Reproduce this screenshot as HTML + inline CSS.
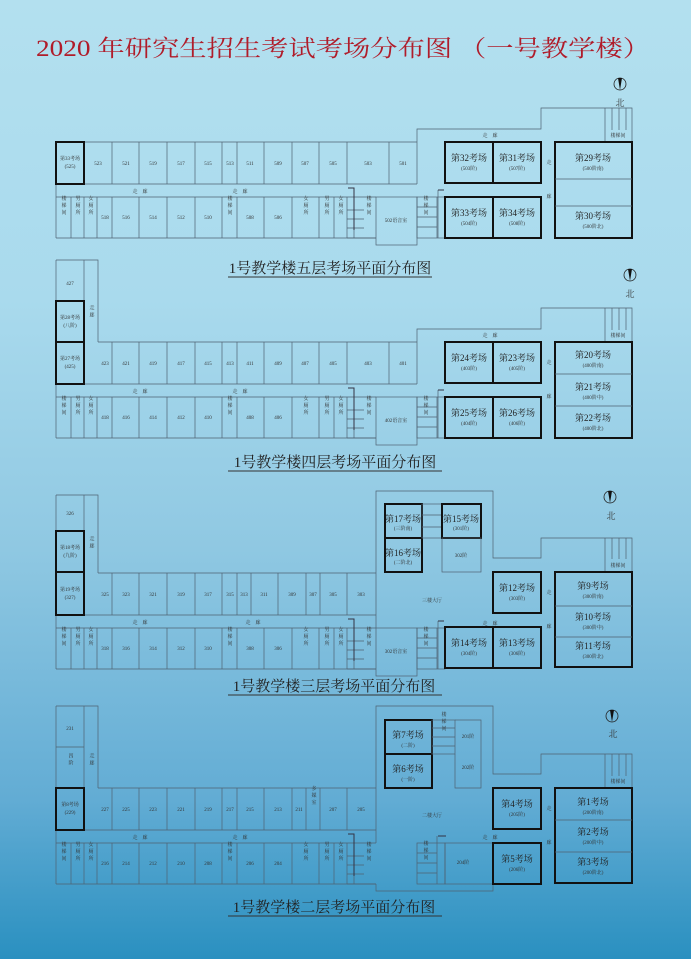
<!DOCTYPE html>
<html><head><meta charset="utf-8"><style>
html,body{margin:0;padding:0}
body{width:691px;height:959px;overflow:hidden;background:linear-gradient(#b3e0ef 0px,#a9daed 300px,#8fc8e2 550px,#62acd4 800px,#2a90c0 959px);font-family:"Liberation Serif","Noto Serif CJK SC",serif}
svg{position:absolute;left:0;top:0}
.l{fill:none;stroke:#4f6272;stroke-width:0.7}
.t{fill:none;stroke:#111;stroke-width:2}
.w{fill:none;stroke:#334;stroke-width:1}
text{font-family:"Liberation Serif","Noto Serif CJK SC",serif;fill:#333;text-anchor:middle}
.s{font-size:5px}
.m{font-size:9px;fill:#222}
.x{font-size:5px;fill:#333}
.v{font-size:5px;writing-mode:vertical-rl;fill:#333;letter-spacing:2px}
.c{font-size:15px;fill:#222}
</style></head><body>
<svg width="691" height="959" viewBox="0 0 691 959">
<text x="36" y="56" textLength="614" lengthAdjust="spacingAndGlyphs" style="font-size:23px;fill:#b01c2a;text-anchor:start;font-family:'Liberation Serif','Noto Serif CJK SC',serif">2020 年研究生招生考试考场分布图 （一号教学楼）</text>

<!-- ========== FLOOR 5 (offset 0) ========== -->
<g>
<path class="l" d="M56 142H417M56 184H417M56 197H376M56 238H376M56 142V238"/>
<path class="l" d="M84 142V184M112 142V184M139 142V184M167 142V184M195 142V184M222 142V184M237 142V184M264 142V184M292 142V184M319 142V184M347 142V184M389 142V184M417 142V184"/>
<path class="l" d="M71 197V238M84 197V238M97 197V238M112 197V238M139 197V238M167 197V238M195 197V238M222 197V238M237 197V238M264 197V238M292 197V238M319 197V238M334 197V238M347 197V238"/>
<rect class="t" x="56" y="142" width="28" height="42"/>
<text class="x" x="70" y="160">第33考场</text><text class="x" x="70" y="168">(525)</text>
<text class="s" x="98" y="165">523</text><text class="s" x="126" y="165">521</text><text class="s" x="153" y="165">519</text><text class="s" x="181" y="165">517</text><text class="s" x="208" y="165">515</text><text class="s" x="230" y="165">513</text><text class="s" x="250" y="165">511</text><text class="s" x="278" y="165">509</text><text class="s" x="305" y="165">507</text><text class="s" x="333" y="165">505</text><text class="s" x="368" y="165">503</text><text class="s" x="403" y="165">501</text>
<text class="s" x="140" y="193">走　廊</text><text class="s" x="240" y="193">走　廊</text>
<text class="v" x="63" y="206">楼梯间</text><text class="v" x="77" y="206">男厕所</text><text class="v" x="90" y="206">女厕所</text>
<text class="s" x="105" y="219">518</text><text class="s" x="126" y="219">516</text><text class="s" x="153" y="219">514</text><text class="s" x="181" y="219">512</text><text class="s" x="208" y="219">510</text><text class="v" x="229" y="206">楼梯间</text><text class="s" x="250" y="219">508</text><text class="s" x="278" y="219">506</text><text class="v" x="305" y="206">女厕所</text><text class="v" x="326" y="206">男厕所</text><text class="v" x="340" y="206">女厕所</text>
<path class="l" d="M347 238H376M354 200V238M347 210H364M347 219H364M347 228H364"/>
<path class="w" d="M348 188H354V230"/>
<text class="v" x="368" y="206">楼梯间</text>
<rect class="l" x="376" y="197" width="41" height="48"/><text class="s" x="396" y="222">502语音室</text>
<rect class="l" x="417" y="197" width="28" height="41"/><path class="l" d="M437 197V238M417 207H437M417 217H437M417 227H437M438 190V238"/>
<path class="w" d="M438 190H444"/>
<text class="v" x="425" y="206">楼梯间</text>
<path class="l" d="M417 142V129H541V108H632V142M605 108V142M612 108V130M619 108V130M626 108V130"/>
<text class="x" x="618" y="137">楼梯间</text>
<text class="s" x="490" y="137">走　廊</text>
<rect class="t" x="445" y="142" width="48" height="41"/><rect class="t" x="493" y="142" width="48" height="41"/>
<rect class="t" x="445" y="197" width="48" height="41"/><rect class="t" x="493" y="197" width="48" height="41"/>
<rect class="t" x="555" y="142" width="77" height="96"/><path class="l" d="M555 179H632M555 206H632"/>
<text class="m" x="469" y="161">第32考场</text><text class="s" x="469" y="170">(503阶)</text>
<text class="m" x="517" y="161">第31考场</text><text class="s" x="517" y="170">(507阶)</text>
<text class="m" x="469" y="216">第33考场</text><text class="s" x="469" y="225">(504阶)</text>
<text class="m" x="517" y="216">第34考场</text><text class="s" x="517" y="225">(508阶)</text>
<text class="m" x="593" y="161">第29考场</text><text class="s" x="593" y="170">(500阶南)</text>
<text class="m" x="593" y="219">第30考场</text><text class="s" x="593" y="228">(500阶北)</text>
<text class="v" x="548" y="163">走</text><text class="v" x="548" y="197">廊</text>
<circle cx="620" cy="84" r="6" fill="none" stroke="#222" stroke-width="0.8"/><path d="M618 78L620 90L622 78Z" fill="#111"/><text x="620" y="106" style="font-size:9px">北</text>
<text class="c" x="330" y="273">1号教学楼五层考场平面分布图</text><path d="M228 277H432" stroke="#333" stroke-width="1"/>
</g>

<!-- ========== FLOOR 4 (offset 200) ========== -->
<g transform="translate(0,200)">
<path class="l" d="M56 60H98V142M56 60V238M84 60V184M98 142H417M98 184H417M56 197H376M56 238H376M56 101H84"/>
<path class="l" d="M112 142V184M139 142V184M167 142V184M195 142V184M222 142V184M237 142V184M264 142V184M292 142V184M319 142V184M347 142V184M389 142V184M417 142V184M84 184H98"/>
<path class="l" d="M71 197V238M84 197V238M97 197V238M112 197V238M139 197V238M167 197V238M195 197V238M222 197V238M237 197V238M264 197V238M292 197V238M319 197V238M334 197V238M347 197V238"/>
<rect class="t" x="56" y="101" width="28" height="41"/><rect class="t" x="56" y="142" width="28" height="42"/>
<text class="s" x="70" y="85">427</text>
<text class="x" x="70" y="119">第28考场</text><text class="x" x="70" y="127">(八阶)</text>
<text class="x" x="70" y="160">第27考场</text><text class="x" x="70" y="168">(425)</text>
<text class="v" x="91" y="112">走廊</text>
<text class="s" x="105" y="165">423</text><text class="s" x="126" y="165">421</text><text class="s" x="153" y="165">419</text><text class="s" x="181" y="165">417</text><text class="s" x="208" y="165">415</text><text class="s" x="230" y="165">413</text><text class="s" x="250" y="165">411</text><text class="s" x="278" y="165">409</text><text class="s" x="305" y="165">407</text><text class="s" x="333" y="165">405</text><text class="s" x="368" y="165">403</text><text class="s" x="403" y="165">401</text>
<text class="s" x="140" y="193">走　廊</text><text class="s" x="240" y="193">走　廊</text>
<text class="v" x="63" y="206">楼梯间</text><text class="v" x="77" y="206">男厕所</text><text class="v" x="90" y="206">女厕所</text>
<text class="s" x="105" y="219">418</text><text class="s" x="126" y="219">416</text><text class="s" x="153" y="219">414</text><text class="s" x="181" y="219">412</text><text class="s" x="208" y="219">410</text><text class="v" x="229" y="206">楼梯间</text><text class="s" x="250" y="219">408</text><text class="s" x="278" y="219">406</text><text class="v" x="305" y="206">女厕所</text><text class="v" x="326" y="206">男厕所</text><text class="v" x="340" y="206">女厕所</text>
<path class="l" d="M347 238H376M354 200V238M347 210H364M347 219H364M347 228H364"/>
<path class="w" d="M348 188H354V230"/>
<text class="v" x="368" y="206">楼梯间</text>
<rect class="l" x="376" y="197" width="41" height="48"/><text class="s" x="396" y="222">402语音室</text>
<rect class="l" x="417" y="197" width="28" height="41"/><path class="l" d="M437 197V238M417 207H437M417 217H437M417 227H437M438 190V238"/>
<path class="w" d="M438 190H444"/>
<text class="v" x="425" y="206">楼梯间</text>
<path class="l" d="M417 142V129H541V108H632V142M605 108V142M612 108V130M619 108V130M626 108V130"/>
<text class="x" x="618" y="137">楼梯间</text>
<text class="s" x="490" y="137">走　廊</text>
<rect class="t" x="445" y="142" width="48" height="41"/><rect class="t" x="493" y="142" width="48" height="41"/>
<rect class="t" x="445" y="197" width="48" height="41"/><rect class="t" x="493" y="197" width="48" height="41"/>
<rect class="t" x="555" y="142" width="77" height="96"/><path class="l" d="M555 174H632M555 206H632"/>
<text class="m" x="469" y="161">第24考场</text><text class="s" x="469" y="170">(403阶)</text>
<text class="m" x="517" y="161">第23考场</text><text class="s" x="517" y="170">(405阶)</text>
<text class="m" x="469" y="216">第25考场</text><text class="s" x="469" y="225">(404阶)</text>
<text class="m" x="517" y="216">第26考场</text><text class="s" x="517" y="225">(406阶)</text>
<text class="m" x="593" y="158">第20考场</text><text class="s" x="593" y="167">(400阶南)</text>
<text class="m" x="593" y="190">第21考场</text><text class="s" x="593" y="199">(400阶中)</text>
<text class="m" x="593" y="221">第22考场</text><text class="s" x="593" y="230">(400阶北)</text>
<text class="v" x="548" y="163">走</text><text class="v" x="548" y="197">廊</text>
<circle cx="630" cy="75" r="6" fill="none" stroke="#222" stroke-width="0.8"/><path d="M628 69L630 81L632 69Z" fill="#111"/><text x="630" y="97" style="font-size:9px">北</text>
<text class="c" x="335" y="267">1号教学楼四层考场平面分布图</text><path d="M228 271H442" stroke="#333" stroke-width="1"/>
</g>

<!-- ========== FLOOR 3 (offset 431) ========== -->
<g transform="translate(0,431)">
<path class="l" d="M56 64H98V142M56 64V238M84 64V184M98 142H376M98 184H376M56 197H376M56 238H376M56 100H84M84 184H98"/>
<path class="l" d="M112 142V184M139 142V184M167 142V184M195 142V184M222 142V184M237 142V184M251 142V184M278 142V184M306 142V184M320 142V184M347 142V184"/>
<path class="l" d="M71 197V238M84 197V238M97 197V238M112 197V238M139 197V238M167 197V238M195 197V238M222 197V238M237 197V238M264 197V238M292 197V238M319 197V238M334 197V238M347 197V238"/>
<rect class="t" x="56" y="100" width="28" height="41"/><rect class="t" x="56" y="141" width="28" height="43"/>
<text class="s" x="70" y="84">326</text>
<text class="x" x="70" y="118">第18考场</text><text class="x" x="70" y="126">(九阶)</text>
<text class="x" x="70" y="160">第19考场</text><text class="x" x="70" y="168">(327)</text>
<text class="v" x="91" y="112">走廊</text>
<text class="s" x="105" y="165">325</text><text class="s" x="126" y="165">323</text><text class="s" x="153" y="165">321</text><text class="s" x="181" y="165">319</text><text class="s" x="208" y="165">317</text><text class="s" x="230" y="165">315</text><text class="s" x="244" y="165">313</text><text class="s" x="264" y="165">311</text><text class="s" x="292" y="165">309</text><text class="s" x="313" y="165">307</text><text class="s" x="333" y="165">305</text><text class="s" x="361" y="165">303</text>
<text class="s" x="140" y="193">走　廊</text><text class="s" x="253" y="193">走　廊</text>
<text class="v" x="63" y="206">楼梯间</text><text class="v" x="77" y="206">男厕所</text><text class="v" x="90" y="206">女厕所</text>
<text class="s" x="105" y="219">318</text><text class="s" x="126" y="219">316</text><text class="s" x="153" y="219">314</text><text class="s" x="181" y="219">312</text><text class="s" x="208" y="219">310</text><text class="v" x="229" y="206">楼梯间</text><text class="s" x="250" y="219">308</text><text class="s" x="278" y="219">306</text><text class="v" x="305" y="206">女厕所</text><text class="v" x="326" y="206">男厕所</text><text class="v" x="340" y="206">女厕所</text>
<path class="l" d="M347 238H376M354 200V238M347 210H364M347 219H364M347 228H364"/>
<path class="w" d="M348 188H354V230"/>
<text class="v" x="368" y="206">楼梯间</text>
<rect class="l" x="376" y="197" width="41" height="48"/><text class="s" x="396" y="222">302语音室</text>
<rect class="l" x="417" y="197" width="28" height="41"/><path class="l" d="M437 197V238M417 207H437M417 217H437M417 227H437M438 190V238"/>
<path class="w" d="M438 190H444"/>
<text class="v" x="425" y="206">楼梯间</text>
<path class="l" d="M376 197V60H493V127H541V107H632V141M605 107V141M612 107V128M619 107V128M626 107V128"/>
<text class="x" x="618" y="136">楼梯间</text>
<rect class="t" x="385" y="73" width="37" height="34"/><rect class="t" x="385" y="107" width="37" height="34"/>
<rect class="l" x="422" y="73" width="20" height="34"/><path class="l" d="M422 84H442M422 96H442"/>
<rect class="t" x="442" y="73" width="39" height="34"/><rect class="l" x="442" y="107" width="39" height="34"/>
<text class="m" x="403" y="91">第17考场</text><text class="s" x="403" y="99">(三阶南)</text>
<text class="m" x="403" y="125">第16考场</text><text class="s" x="403" y="133">(二阶北)</text>
<text class="m" x="461" y="91">第15考场</text><text class="s" x="461" y="99">(301阶)</text>
<text class="s" x="461" y="126">302阶</text>
<text class="s" x="432" y="171">三楼大厅</text>
<text class="s" x="490" y="194">走　廊</text>
<rect class="t" x="493" y="141" width="48" height="41"/>
<rect class="t" x="445" y="196" width="48" height="41"/><rect class="t" x="493" y="196" width="48" height="41"/>
<rect class="t" x="555" y="141" width="77" height="95"/><path class="l" d="M555 175H632M555 206H632"/>
<text class="m" x="517" y="160">第12考场</text><text class="s" x="517" y="169">(303阶)</text>
<text class="m" x="469" y="215">第14考场</text><text class="s" x="469" y="224">(304阶)</text>
<text class="m" x="517" y="215">第13考场</text><text class="s" x="517" y="224">(306阶)</text>
<text class="m" x="593" y="158">第9考场</text><text class="s" x="593" y="167">(300阶南)</text>
<text class="m" x="593" y="189">第10考场</text><text class="s" x="593" y="198">(300阶中)</text>
<text class="m" x="593" y="218">第11考场</text><text class="s" x="593" y="227">(300阶北)</text>
<text class="v" x="548" y="162">走</text><text class="v" x="548" y="196">廊</text>
<circle cx="610" cy="66" r="6" fill="none" stroke="#222" stroke-width="0.8"/><path d="M608 60L610 72L612 60Z" fill="#111"/><text x="611" y="88" style="font-size:9px">北</text>
<text class="c" x="334" y="260">1号教学楼三层考场平面分布图</text><path d="M228 264H442" stroke="#333" stroke-width="1"/>
</g>

<!-- ========== FLOOR 2 (offset 646) ========== -->
<g transform="translate(0,646)">
<path class="l" d="M56 60H98V142M56 60V238M84 60V184M98 142H376M98 184H376M56 197H376M56 238H376M56 101H84M84 184H98"/>
<path class="l" d="M112 142V184M139 142V184M167 142V184M195 142V184M222 142V184M237 142V184M264 142V184M292 142V184M306 142V184M320 142V184M347 142V184"/>
<path class="l" d="M71 197V238M84 197V238M97 197V238M112 197V238M139 197V238M167 197V238M195 197V238M222 197V238M237 197V238M264 197V238M292 197V238M319 197V238M334 197V238M347 197V238"/>
<rect class="t" x="56" y="142" width="28" height="42"/>
<text class="s" x="70" y="84">231</text>
<text class="v" x="70" y="114">四阶</text>
<text class="x" x="70" y="160">第8考场</text><text class="x" x="70" y="168">(229)</text>
<text class="v" x="91" y="114">走廊</text>
<text class="s" x="105" y="165">227</text><text class="s" x="126" y="165">225</text><text class="s" x="153" y="165">223</text><text class="s" x="181" y="165">221</text><text class="s" x="208" y="165">219</text><text class="s" x="230" y="165">217</text><text class="s" x="250" y="165">215</text><text class="s" x="278" y="165">213</text><text class="s" x="299" y="165">211</text><text class="v" x="313" y="150">多媒室</text><text class="s" x="333" y="165">207</text><text class="s" x="361" y="165">205</text>
<text class="s" x="140" y="193">走　廊</text><text class="s" x="240" y="193">走　廊</text>
<text class="v" x="63" y="206">楼梯间</text><text class="v" x="77" y="206">男厕所</text><text class="v" x="90" y="206">女厕所</text>
<text class="s" x="105" y="219">216</text><text class="s" x="126" y="219">214</text><text class="s" x="153" y="219">212</text><text class="s" x="181" y="219">210</text><text class="s" x="208" y="219">208</text><text class="v" x="229" y="206">楼梯间</text><text class="s" x="250" y="219">206</text><text class="s" x="278" y="219">204</text><text class="v" x="305" y="206">女厕所</text><text class="v" x="326" y="206">男厕所</text><text class="v" x="340" y="206">女厕所</text>
<path class="l" d="M347 238H376M354 200V238M347 210H364M347 219H364M347 228H364"/>
<path class="w" d="M348 188H354V230"/>
<text class="v" x="368" y="206">楼梯间</text>
<path class="l" d="M376 238V245H493V197M376 197V60H493V128H541V108H632V142M605 108V142M612 108V130M619 108V130M626 108V130"/>
<text class="x" x="618" y="137">楼梯间</text>
<rect class="l" x="417" y="197" width="28" height="41"/><path class="l" d="M437 190V238M417 207H437M417 217H437M417 227H437"/>
<path class="w" d="M438 190H446"/>
<text class="v" x="425" y="205">楼梯间</text>
<rect class="l" x="445" y="197" width="48" height="41"/><text class="s" x="463" y="218">204阶</text>
<rect class="t" x="385" y="74" width="47" height="34"/><rect class="t" x="385" y="108" width="47" height="34"/>
<rect class="l" x="432" y="74" width="23" height="34"/><path class="l" d="M432 82H455M432 91H455M432 100H455M455 74H481V142H455V108"/>
<text class="m" x="408" y="92">第7考场</text><text class="s" x="408" y="101">(二阶)</text>
<text class="m" x="408" y="126">第6考场</text><text class="s" x="408" y="135">(一阶)</text>
<text class="v" x="443" y="76">楼梯间</text>
<text class="s" x="468" y="92">201阶</text><text class="s" x="468" y="123">202阶</text>
<text class="s" x="432" y="171">二楼大厅</text>
<text class="s" x="490" y="193">走　廊</text>
<rect class="t" x="493" y="142" width="48" height="41"/>
<rect class="t" x="493" y="197" width="48" height="41"/>
<rect class="t" x="555" y="142" width="77" height="95"/><path class="l" d="M555 174H632M555 206H632"/>
<text class="m" x="517" y="161">第4考场</text><text class="s" x="517" y="170">(205阶)</text>
<text class="m" x="517" y="216">第5考场</text><text class="s" x="517" y="225">(206阶)</text>
<text class="m" x="593" y="159">第1考场</text><text class="s" x="593" y="168">(200阶南)</text>
<text class="m" x="593" y="189">第2考场</text><text class="s" x="593" y="198">(200阶中)</text>
<text class="m" x="593" y="219">第3考场</text><text class="s" x="593" y="228">(200阶北)</text>
<text class="v" x="548" y="163">走</text><text class="v" x="548" y="197">廊</text>
<circle cx="612" cy="70" r="6" fill="none" stroke="#222" stroke-width="0.8"/><path d="M610 64L612 76L614 64Z" fill="#111"/><text x="613" y="91" style="font-size:9px">北</text>
<text class="c" x="334" y="266">1号教学楼二层考场平面分布图</text><path d="M228 270H442" stroke="#333" stroke-width="1"/>
</g>
</svg>
</body></html>
